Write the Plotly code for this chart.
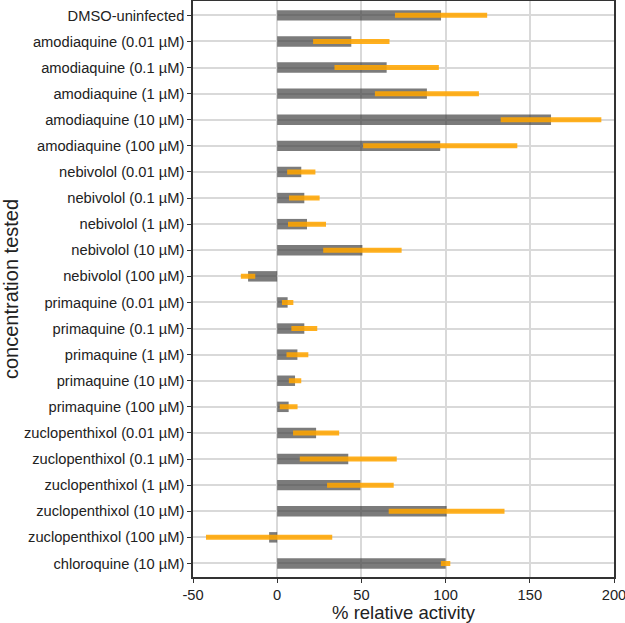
import plotly.graph_objects as go

categories = [
    "DMSO-uninfected",
    "amodiaquine (0.01 µM)", "amodiaquine (0.1 µM)", "amodiaquine (1 µM)",
    "amodiaquine (10 µM)", "amodiaquine (100 µM)",
    "nebivolol (0.01 µM)", "nebivolol (0.1 µM)", "nebivolol (1 µM)",
    "nebivolol (10 µM)", "nebivolol (100 µM)",
    "primaquine (0.01 µM)", "primaquine (0.1 µM)", "primaquine (1 µM)",
    "primaquine (10 µM)", "primaquine (100 µM)",
    "zuclopenthixol (0.01 µM)", "zuclopenthixol (0.1 µM)", "zuclopenthixol (1 µM)",
    "zuclopenthixol (10 µM)", "zuclopenthixol (100 µM)",
    "chloroquine (10 µM)",
]
activity = [97.3, 44.0, 65.0, 88.9, 162.6, 96.8,
            14.3, 16.1, 17.7, 50.6, -17.3,
            6.2, 16.1, 12.0, 10.6, 6.8,
            23.1, 42.2, 49.4, 100.6, -4.8,
            100.0]
sd = [25.9, 21.2, 29.5, 29.4, 28.4, 44.3,
      6.9, 7.6, 9.8, 21.8, 2.8,
      1.9, 6.2, 5.0, 2.2, 3.8,
      12.2, 27.3, 18.3, 32.9, 36.0,
      1.3]
x_ticks = [-50, 0, 50, 100, 150, 200]

font = "Liberation Sans, Arial, sans-serif"

fig = go.Figure()
fig.add_trace(go.Bar(
    y=categories, x=activity, orientation="h",
    marker=dict(color="rgba(60,60,60,0.68)", line=dict(width=0)),
    width=0.4,
    error_x=dict(type="data", array=sd, visible=True,
                 color="rgba(255,165,0,0.88)", thickness=5, width=2.5),
    showlegend=False, hoverinfo="skip",
))

fig.update_layout(
    width=625, height=623,
    margin=dict(l=193, r=11, t=1, b=46),
    plot_bgcolor="white", paper_bgcolor="white",
    font=dict(family=font, size=14.7, color="#222"),
    xaxis=dict(
        range=[-50, 200], tickvals=x_ticks, ticktext=[str(v) for v in x_ticks],
        showgrid=True, gridcolor="#d9d9d9", gridwidth=2, zeroline=False,
        showline=True, linecolor="#333", linewidth=1.5, mirror=True,
        ticks="outside", ticklen=4, tickcolor="#333",
        ticklabeloverflow="allow",
        tickfont=dict(size=14.7, color="#222"), automargin=False,
        title=dict(text="% relative activity", font=dict(size=18.5, color="#222")),
    ),
    yaxis=dict(
        categoryorder="array", categoryarray=categories,
        range=[len(categories) - 1 + 0.52, -0.55],
        showgrid=True, gridcolor="#d9d9d9", gridwidth=2,
        showline=True, linecolor="#333", linewidth=1.5, mirror=True,
        ticks="outside", ticklen=4, tickcolor="#333",
        tickfont=dict(size=14.7, color="#222"), automargin=False,
        title=dict(text="concentration tested", font=dict(size=20, color="#222")),
    ),
    bargap=0.6,
)

fig.write_html("out.html", config={"displayModeBar": False},
               post_script="document.body.style.margin='0';document.body.style.overflow='hidden';")
